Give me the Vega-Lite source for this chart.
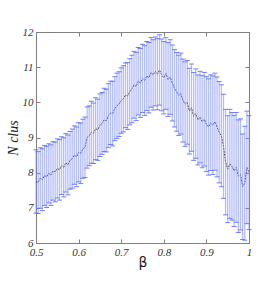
{
  "$schema": "https://vega.github.io/schema/vega-lite/v6.json",
  "width": 213,
  "height": 211,
  "autosize": "none",
  "padding": {"left": 36, "top": 32, "right": 26, "bottom": 42},
  "background": "white",
  "config": {
    "view": {"stroke": null},
    "axis": {
      "domainColor": "#808080",
      "tickColor": "#808080",
      "tickSize": -4,
      "grid": false,
      "labelFont": "Liberation Serif",
      "labelFontStyle": "italic",
      "labelFontSize": 11,
      "labelColor": "#333333",
      "labelPadding": 7,
      "labelOverlap": false,
      "labelFlush": false,
      "labelBound": false,
      "titleColor": "#222222",
      "titleFontWeight": "normal"
    }
  },
  "data": {"values": [
    {"b":0.500,"m":7.75,"lo":6.85,"hi":8.65},{"b":0.505,"m":7.72,"lo":6.84,"hi":8.60},{"b":0.510,"m":7.85,"lo":6.99,"hi":8.71},{"b":0.515,"m":7.80,"lo":6.92,"hi":8.68},{"b":0.520,"m":7.92,"lo":7.07,"hi":8.77},
    {"b":0.525,"m":7.88,"lo":7.01,"hi":8.75},{"b":0.530,"m":7.98,"lo":7.14,"hi":8.82},{"b":0.535,"m":7.93,"lo":7.07,"hi":8.79},{"b":0.540,"m":8.05,"lo":7.22,"hi":8.88},{"b":0.545,"m":8.02,"lo":7.17,"hi":8.87},
    {"b":0.550,"m":8.12,"lo":7.28,"hi":8.96},{"b":0.555,"m":8.08,"lo":7.22,"hi":8.94},{"b":0.560,"m":8.20,"lo":7.38,"hi":9.02},{"b":0.565,"m":8.15,"lo":7.31,"hi":8.99},{"b":0.570,"m":8.28,"lo":7.45,"hi":9.11},
    {"b":0.575,"m":8.22,"lo":7.37,"hi":9.07},{"b":0.580,"m":8.35,"lo":7.53,"hi":9.17},{"b":0.585,"m":8.40,"lo":7.56,"hi":9.24},{"b":0.590,"m":8.50,"lo":7.67,"hi":9.33},{"b":0.595,"m":8.45,"lo":7.60,"hi":9.30},
    {"b":0.600,"m":8.58,"lo":7.74,"hi":9.42},{"b":0.605,"m":8.55,"lo":7.69,"hi":9.41},{"b":0.610,"m":8.68,"lo":7.84,"hi":9.52},{"b":0.615,"m":8.72,"lo":7.86,"hi":9.58},{"b":0.620,"m":9.00,"lo":8.13,"hi":9.87},
    {"b":0.625,"m":9.05,"lo":8.20,"hi":9.90},{"b":0.630,"m":9.15,"lo":8.27,"hi":10.03},{"b":0.635,"m":9.12,"lo":8.26,"hi":9.98},{"b":0.640,"m":9.25,"lo":8.37,"hi":10.13},{"b":0.645,"m":9.22,"lo":8.35,"hi":10.09},
    {"b":0.650,"m":9.35,"lo":8.46,"hi":10.24},{"b":0.655,"m":9.40,"lo":8.52,"hi":10.28},{"b":0.660,"m":9.50,"lo":8.60,"hi":10.40},{"b":0.665,"m":9.48,"lo":8.59,"hi":10.37},{"b":0.670,"m":9.62,"lo":8.71,"hi":10.53},
    {"b":0.675,"m":9.70,"lo":8.80,"hi":10.60},{"b":0.680,"m":9.68,"lo":8.76,"hi":10.60},{"b":0.685,"m":9.82,"lo":8.91,"hi":10.73},{"b":0.690,"m":9.90,"lo":8.97,"hi":10.83},{"b":0.695,"m":9.95,"lo":9.03,"hi":10.87},
    {"b":0.700,"m":10.05,"lo":9.12,"hi":10.98},{"b":0.705,"m":10.10,"lo":9.16,"hi":11.04},{"b":0.710,"m":10.20,"lo":9.28,"hi":11.12},{"b":0.715,"m":10.18,"lo":9.23,"hi":11.13},{"b":0.720,"m":10.30,"lo":9.36,"hi":11.24},
    {"b":0.725,"m":10.38,"lo":9.42,"hi":11.34},{"b":0.730,"m":10.50,"lo":9.55,"hi":11.45},{"b":0.735,"m":10.45,"lo":9.48,"hi":11.42},{"b":0.740,"m":10.60,"lo":9.64,"hi":11.56},{"b":0.745,"m":10.55,"lo":9.57,"hi":11.53},
    {"b":0.750,"m":10.68,"lo":9.71,"hi":11.65},{"b":0.755,"m":10.62,"lo":9.63,"hi":11.61},{"b":0.760,"m":10.75,"lo":9.77,"hi":11.73},{"b":0.765,"m":10.70,"lo":9.70,"hi":11.70},{"b":0.770,"m":10.85,"lo":9.86,"hi":11.84},
    {"b":0.775,"m":10.78,"lo":9.78,"hi":11.78},{"b":0.780,"m":10.88,"lo":9.90,"hi":11.86},{"b":0.785,"m":10.80,"lo":9.79,"hi":11.81},{"b":0.790,"m":10.92,"lo":9.92,"hi":11.92},{"b":0.795,"m":10.78,"lo":9.76,"hi":11.80},
    {"b":0.800,"m":10.70,"lo":9.67,"hi":11.73},{"b":0.805,"m":10.82,"lo":9.80,"hi":11.84},{"b":0.810,"m":10.65,"lo":9.60,"hi":11.70},{"b":0.815,"m":10.72,"lo":9.66,"hi":11.78},{"b":0.820,"m":10.55,"lo":9.47,"hi":11.63},
    {"b":0.825,"m":10.40,"lo":9.30,"hi":11.50},{"b":0.830,"m":10.30,"lo":9.18,"hi":11.42},{"b":0.835,"m":10.20,"lo":9.06,"hi":11.34},{"b":0.840,"m":10.25,"lo":9.10,"hi":11.40},{"b":0.845,"m":10.05,"lo":8.87,"hi":11.23},
    {"b":0.850,"m":9.95,"lo":8.75,"hi":11.15},{"b":0.855,"m":10.00,"lo":8.81,"hi":11.19},{"b":0.860,"m":9.75,"lo":8.53,"hi":10.97},{"b":0.865,"m":9.85,"lo":8.61,"hi":11.09},{"b":0.870,"m":9.60,"lo":8.35,"hi":10.85},
    {"b":0.875,"m":9.68,"lo":8.41,"hi":10.95},{"b":0.880,"m":9.50,"lo":8.22,"hi":10.78},{"b":0.885,"m":9.58,"lo":8.28,"hi":10.88},{"b":0.890,"m":9.45,"lo":8.14,"hi":10.76},{"b":0.895,"m":9.52,"lo":8.19,"hi":10.85},
    {"b":0.900,"m":9.38,"lo":8.03,"hi":10.73},{"b":0.905,"m":9.30,"lo":7.93,"hi":10.67},{"b":0.910,"m":9.42,"lo":8.06,"hi":10.78},{"b":0.915,"m":9.35,"lo":7.95,"hi":10.75},{"b":0.920,"m":9.45,"lo":8.07,"hi":10.83},
    {"b":0.925,"m":9.30,"lo":7.88,"hi":10.72},{"b":0.930,"m":9.15,"lo":7.71,"hi":10.59},{"b":0.935,"m":9.05,"lo":7.60,"hi":10.50},{"b":0.940,"m":8.75,"lo":7.27,"hi":10.23},{"b":0.945,"m":8.30,"lo":6.80,"hi":9.80},
    {"b":0.950,"m":8.10,"lo":6.58,"hi":9.62},{"b":0.955,"m":8.25,"lo":6.70,"hi":9.80},{"b":0.960,"m":8.18,"lo":6.65,"hi":9.71},{"b":0.965,"m":8.05,"lo":6.47,"hi":9.63},{"b":0.970,"m":8.15,"lo":6.59,"hi":9.71},
    {"b":0.975,"m":7.90,"lo":6.30,"hi":9.50},{"b":0.980,"m":7.95,"lo":6.37,"hi":9.53},{"b":0.985,"m":7.60,"lo":6.10,"hi":9.10},{"b":0.990,"m":7.70,"lo":6.08,"hi":9.32},{"b":0.995,"m":8.15,"lo":6.55,"hi":9.75},
    {"b":1.000,"m":8.00,"lo":6.38,"hi":9.62}
  ]},
  "resolve": {"axis": {"x": "independent", "y": "independent"}},
  "layer": [
    {
      "mark": {"type": "line", "color": "#1c1c3c", "strokeWidth": 0.8, "strokeDash": [2, 1]},
      "encoding": {
        "x": {"field": "b", "type": "quantitative", "scale": {"domain": [0.5, 1], "nice": false},
          "axis": {"orient": "bottom", "title": "β", "values": [0.5, 0.6, 0.7, 0.8, 0.9, 1], "labelExpr": "datum.value == 1 ? '1' : format(datum.value, '.1f')", "titleFont": "DejaVu Sans", "titleFontSize": 14, "titlePadding": -2}},
        "y": {"field": "m", "type": "quantitative", "scale": {"domain": [6, 12], "nice": false, "zero": false},
          "axis": {"orient": "left", "title": "N clus", "values": [6, 7, 8, 9, 10, 11, 12], "titleFont": "Liberation Serif", "titleFontStyle": "italic", "titleFontSize": 14, "titlePadding": 2}}
      }
    },
    {
      "mark": {"type": "rule", "color": "#8090ff", "opacity": 0.6, "strokeWidth": 1.3},
      "encoding": {
        "x": {"field": "b", "type": "quantitative", "axis": {"orient": "top", "title": null, "labels": false, "values": [0.5, 0.6, 0.7, 0.8, 0.9, 1]}},
        "y": {"field": "lo", "type": "quantitative", "axis": {"orient": "right", "title": null, "labels": false, "values": [6, 7, 8, 9, 10, 11, 12]}},
        "y2": {"field": "hi"}
      }
    },
    {
      "mark": {"type": "tick", "orient": "horizontal", "color": "#6070ff", "size": 5, "thickness": 1, "opacity": 0.9},
      "encoding": {
        "x": {"field": "b", "type": "quantitative", "axis": null},
        "y": {"field": "hi", "type": "quantitative", "axis": null}
      }
    },
    {
      "mark": {"type": "tick", "orient": "horizontal", "color": "#6070ff", "size": 5, "thickness": 1, "opacity": 0.9},
      "encoding": {
        "x": {"field": "b", "type": "quantitative", "axis": null},
        "y": {"field": "lo", "type": "quantitative", "axis": null}
      }
    }
  ]
}
